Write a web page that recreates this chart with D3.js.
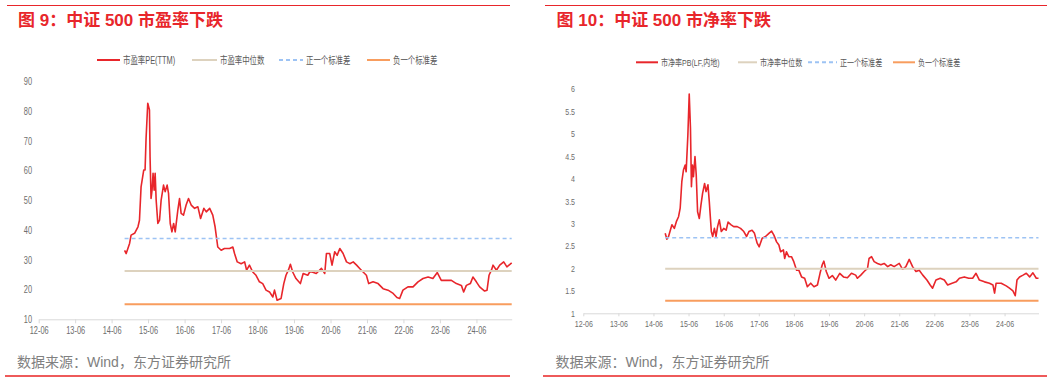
<!DOCTYPE html>
<html>
<head>
<meta charset="utf-8">
<script src="https://cdn.jsdelivr.net/npm/d3@7"></script>
<style>
  body { margin: 0; background: #fff; }
  svg { display: block; font-family: "Liberation Sans", Arial, "Noto Sans CJK SC", sans-serif; }
</style>
</head>
<body>
<script>
// 中证500 市盈率 PE(TTM)
const peDates = ['2014-10-09','2014-10-25','2014-11-28','2014-12-13','2015-01-17','2015-02-20','2015-03-07','2015-03-23','2015-04-19','2015-05-02',
  '2015-05-12','2015-05-29','2015-06-15','2015-06-21','2015-07-01','2015-07-11','2015-07-21','2015-08-01','2015-08-11','2015-08-21',
  '2015-09-07','2015-09-24','2015-10-10','2015-11-03','2015-11-19','2015-12-09','2015-12-23','2016-01-09','2016-01-26','2016-02-12',
  '2016-02-28','2016-03-25','2016-04-11','2016-04-27','2016-05-21','2016-06-16','2016-07-10','2016-08-06','2016-09-09','2016-10-12',
  '2016-11-08','2016-12-11','2017-01-04','2017-02-07','2017-03-10','2017-04-02','2017-04-29','2017-06-02','2017-07-05','2017-08-25',
  '2017-09-27','2017-10-14','2017-11-10','2017-12-19','2018-01-23','2018-02-12','2018-03-12','2018-04-14','2018-05-17','2018-06-20',
  '2018-07-23','2018-08-25','2018-09-29','2018-11-01','2018-11-18','2018-12-14','2019-01-23','2019-02-19','2019-03-13','2019-04-06',
  '2019-04-26','2019-05-19','2019-06-21','2019-08-04','2019-09-01','2019-10-17','2019-11-06','2019-11-29','2020-01-10','2020-03-02',
  '2020-04-04','2020-04-21','2020-05-24','2020-06-16','2020-07-13','2020-08-06','2020-09-02','2020-10-05','2020-11-08','2020-12-11',
  '2021-01-14','2021-02-17','2021-03-20','2021-04-23','2021-05-26','2021-06-18','2021-08-01','2021-09-20','2021-11-09','2021-12-29',
  '2022-02-18','2022-03-28','2022-04-24','2022-05-27','2022-07-16','2022-09-05','2022-10-25','2022-12-14','2023-02-03','2023-03-23',
  '2023-05-06','2023-06-15','2023-08-05','2023-09-24','2023-11-13','2024-01-02','2024-01-25','2024-02-21','2024-04-01','2024-04-27',
  '2024-05-31','2024-07-03','2024-08-22','2024-09-15','2024-10-05','2024-10-29','2024-11-14','2024-12-18','2025-01-20','2025-03-01',
  '2025-04-02','2025-05-20'];
const peValues = [33.2,32.1,35.5,38.3,38.9,41.1,43.3,54.5,60.2,60.2,
  70.8,82.6,80.4,64.6,50.6,53.4,59.1,53.4,59.1,50.1,
  42.2,43.3,50.1,55.1,52.9,55.1,52.3,42.2,39.4,42.2,
  39.4,46.7,50.6,45.6,45.0,48.4,50.6,48.4,47.3,47.8,
  43.9,47.3,46.1,47.3,45.0,41.1,34.3,33.2,33.8,33.8,
  34.3,32.1,29.3,28.7,29.3,26.5,28.2,25.9,24.8,22.6,
  22.0,19.8,19.2,17.5,19.8,16.4,17.0,22.0,24.8,26.5,
  28.5,25.9,23.7,22.0,25.4,24.8,25.9,25.9,25.4,27.1,
  25.4,32.1,32.1,28.2,32.7,31.5,33.8,32.1,29.3,28.7,
  29.3,28.2,27.1,25.9,24.8,22.0,22.6,22.0,20.3,19.8,
  18.7,17.3,17.0,19.8,20.9,20.9,22.6,23.7,24.2,23.7,
  25.7,23.1,23.1,23.1,22.0,21.4,19.2,21.4,22.0,24.2,
  22.6,20.9,19.5,19.8,24.8,26.5,28.2,26.5,28.2,29.3,
  27.6,29.0];
// median, +1 std, -1 std
const peRefs = [26.2, 37.2, 15.1];
const peTicks = [10, 20, 30, 40, 50, 60, 70, 80, 90];
const peLegend = ['市盈率PE(TTM)', '市盈率中位数', '正一个标准差', '负一个标准差'];

// 中证500 市净率 PB(LF, 内地)
const pbDates = ['2014-10-01','2014-10-19','2014-11-05','2014-12-10','2015-01-04','2015-01-25','2015-02-17','2015-03-06','2015-03-23','2015-04-09',
  '2015-04-27','2015-05-07','2015-05-25','2015-06-08','2015-06-21','2015-07-01','2015-07-12','2015-07-22','2015-08-07','2015-08-20',
  '2015-09-03','2015-09-21','2015-10-08','2015-10-25','2015-11-15','2015-11-30','2015-12-20','2016-01-03','2016-01-24','2016-02-07',
  '2016-02-25','2016-03-13','2016-03-29','2016-04-16','2016-05-07','2016-06-01','2016-06-26','2016-07-16','2016-08-17','2016-09-13',
  '2016-10-19','2016-11-23','2016-12-27','2017-01-25','2017-02-18','2017-03-23','2017-04-17','2017-05-15','2017-06-05','2017-07-06',
  '2017-08-10','2017-09-14','2017-10-12','2017-11-05','2017-12-03','2017-12-27','2018-01-14','2018-02-12','2018-02-25','2018-03-16',
  '2018-04-09','2018-05-07','2018-05-31','2018-06-29','2018-07-22','2018-08-20','2018-09-21','2018-10-19','2018-11-23','2018-12-27',
  '2019-02-01','2019-02-28','2019-03-23','2019-04-09','2019-05-04','2019-06-01','2019-07-06','2019-08-10','2019-09-21','2019-10-30',
  '2019-12-10','2020-01-21','2020-03-05','2020-03-23','2020-04-27','2020-06-01','2020-07-06','2020-07-22','2020-08-17','2020-09-13',
  '2020-10-18','2020-11-22','2020-12-26','2021-02-01','2021-03-05','2021-04-09','2021-06-01','2021-07-06','2021-08-09','2021-09-13',
  '2021-10-18','2021-11-22','2021-12-26','2022-02-01','2022-03-16','2022-04-19','2022-05-14','2022-06-18','2022-08-02','2022-09-13',
  '2022-10-18','2022-12-03','2023-01-14','2023-02-17','2023-04-09','2023-05-25','2023-07-05','2023-08-09','2023-09-13','2023-11-05',
  '2023-12-27','2024-02-01','2024-02-18','2024-03-05','2024-04-27','2024-06-18','2024-07-22','2024-08-27','2024-09-20','2024-10-08',
  '2024-11-04','2024-12-10','2025-01-13','2025-02-17','2025-03-23','2025-04-27','2025-05-20'];
const pbValues = [2.78,2.65,2.71,2.97,2.89,3.04,3.15,3.34,3.93,4.19,
  4.30,4.15,4.97,5.88,5.12,3.82,4.30,4.04,4.49,4.08,
  3.26,3.11,3.41,3.67,3.89,3.71,3.86,3.48,2.82,2.71,
  2.89,2.71,2.93,3.08,2.82,2.89,2.85,3.03,2.97,2.93,
  2.93,2.89,2.82,2.71,2.82,2.85,2.78,2.56,2.48,2.67,
  2.71,2.78,2.83,2.74,2.59,2.52,2.37,2.41,2.22,2.37,
  2.26,2.26,2.15,1.96,1.96,1.81,1.78,1.59,1.67,1.59,
  1.63,1.89,2.08,2.16,1.93,1.78,1.84,1.74,1.89,1.81,
  1.79,1.89,1.85,1.78,1.85,1.93,2.00,2.22,2.26,2.15,
  2.11,2.08,2.11,2.04,2.08,2.04,2.11,1.98,2.04,2.20,
  2.04,1.93,1.96,1.85,1.74,1.63,1.56,1.74,1.78,1.74,
  1.63,1.67,1.70,1.78,1.81,1.78,1.78,1.89,1.74,1.70,
  1.67,1.63,1.45,1.67,1.67,1.61,1.56,1.50,1.39,1.74,
  1.81,1.85,1.89,1.81,1.90,1.78,1.78];
const pbRefs = [1.99, 2.68, 1.28];
const pbTicks = [1, 1.5, 2, 2.5, 3, 3.5, 4, 4.5, 5, 5.5, 6];
const pbLegend = ['市净率PB(LF,内地)', '市净率中位数', '正一个标准差', '负一个标准差'];

const xTickDates = ['2012-06-01','2013-06-01','2014-06-01','2015-06-01','2016-06-01','2017-06-01','2018-06-01',
  '2019-06-01','2020-06-01','2021-06-01','2022-06-01','2023-06-01','2024-06-01'];
const xStart = '2012-06-01', xEnd = '2025-05-20';
const source = '数据来源：Wind，东方证券研究所';

const W = 1061, H = 382;
const red = '#e8262b';
const parse = d3.timeParse('%Y-%m-%d');
const fmt = d3.timeFormat('%y-%m');

const svg = d3.select('body').append('svg')
    .attr('width', W)
    .attr('height', H);

// chart text in the original is narrower than normal; squeeze it horizontally
function squeeze(sel, k) {
    sel.each(function() {
        const w = this.getComputedTextLength();
        this.setAttribute('textLength', w * k);
        this.setAttribute('lengthAdjust', 'spacingAndGlyphs');
    });
}

function drawPanel(p) {
    const g = svg.append('g');

    // top / bottom rules
    g.append('line').attr('x1', p.rule[0]).attr('x2', p.rule[1]).attr('y1', 5.5).attr('y2', 5.5)
        .attr('stroke', red).attr('stroke-width', 1.2);
    g.append('line').attr('x1', p.rule[0] - 2).attr('x2', p.rule[1]).attr('y1', 376).attr('y2', 376)
        .attr('stroke', '#ee5a5a').attr('stroke-width', 2);

    g.append('text')
        .attr('x', p.titleX).attr('y', 26)
        .attr('fill', red)
        .attr('font-size', 17)
        .attr('font-weight', 'bold')
        .text(p.title);

    g.append('text')
        .attr('x', p.titleX - 1).attr('y', 366.5)
        .attr('fill', '#808080')
        .attr('font-size', 14)
        .text(source);

    const data = p.dates.map((d, i) => ({ date: parse(d), value: p.values[i] }));

    const x = d3.scaleTime()
        .domain([parse(xStart), parse(xEnd)])
        .range(p.xRange);
    const y = d3.scaleLinear()
        .domain(p.yDomain)
        .range(p.yRange);

    // y labels
    const yAxis = g.append('g')
        .attr('transform', `translate(${p.yLabelRight + 3},0)`)
        .call(d3.axisLeft(y).tickValues(p.yTicks).tickSize(0).tickPadding(3).tickFormat(d => d));
    yAxis.select('.domain').remove();
    yAxis.selectAll('text')
        .attr('fill', '#6e6e6e')
        .attr('font-size', p.fontSize)
        .attr('font-family', '"Liberation Sans", Arial, sans-serif')
        .call(squeeze, p.k);

    // x axis
    const xAxis = g.append('g')
        .attr('transform', `translate(0,${p.yRange[0]})`)
        .call(d3.axisBottom(x)
            .tickValues(xTickDates.map(parse))
            .tickSize(p.tickLen)
            .tickSizeOuter(0)
            .tickPadding(p.tickPad)
            .tickFormat(fmt));
    xAxis.select('.domain').attr('stroke', '#d9d9d9');
    xAxis.selectAll('.tick line').attr('stroke', '#d9d9d9');
    xAxis.selectAll('text')
        .attr('fill', '#6e6e6e')
        .attr('font-size', p.fontSize)
        .attr('font-family', '"Liberation Sans", Arial, sans-serif')
        .call(squeeze, p.k);

    // series
    const line = d3.line()
        .x(d => x(d.date))
        .y(d => y(d.value));
    g.append('path')
        .datum(data)
        .attr('fill', 'none')
        .attr('stroke', red)
        .attr('stroke-width', 1.6)
        .attr('stroke-linejoin', 'round')
        .attr('d', line);

    // reference lines: median, +1 std, -1 std
    const refStyles = [
        { color: '#ddd2be', width: 2, dash: null },
        { color: '#9dc3f4', width: 1.5, dash: '4,3' },
        { color: '#f89d5e', width: 2, dash: null }
    ];
    const x0 = x(data[0].date), x1 = x(data[data.length - 1].date);
    p.refs.forEach((v, i) => {
        g.append('line')
            .attr('x1', x0).attr('x2', x1)
            .attr('y1', y(v)).attr('y2', y(v))
            .attr('stroke', refStyles[i].color)
            .attr('stroke-width', refStyles[i].width)
            .attr('stroke-dasharray', refStyles[i].dash);
    });

    // legend
    const swatches = [{ color: red, width: 2, dash: null }].concat(refStyles);
    p.legend.forEach((name, i) => {
        const lx = p.legendX[i];
        const sw = p.swatchW[i];
        g.append('line')
            .attr('x1', lx).attr('x2', lx + sw)
            .attr('y1', p.legendY).attr('y2', p.legendY)
            .attr('stroke', swatches[i].color)
            .attr('stroke-width', 2)
            .attr('stroke-dasharray', swatches[i].dash);
        g.append('text')
            .attr('x', lx + sw + 3)
            .attr('y', p.legendY)
            .attr('dy', '0.35em')
            .attr('fill', '#595959')
            .attr('font-size', p.fontSize)
            .text(name)
            .call(squeeze, p.k);
    });
}

drawPanel({
    title: '图 9：中证 500 市盈率下跌',
    titleX: 18,
    rule: [7, 510],
    dates: peDates, values: peValues, refs: peRefs,
    yTicks: peTicks, yDomain: [10, 90],
    xRange: [38.7, 511.7], yRange: [319.3, 81.3],
    yLabelRight: 32,
    tickLen: 4, tickPad: 3.5,
    legend: peLegend,
    legendX: [97, 192, 279, 367], swatchW: [23, 25, 24, 23], legendY: 60,
    fontSize: 10, k: 0.74
});

drawPanel({
    title: '图 10：中证 500 市净率下跌',
    titleX: 556.5,
    rule: [545, 1047],
    dates: pbDates, values: pbValues, refs: pbRefs,
    yTicks: pbTicks, yDomain: [1, 6],
    xRange: [583.3, 1038.5], yRange: [313.3, 88.7],
    yLabelRight: 575,
    tickLen: 3, tickPad: 3.5,
    legend: pbLegend,
    legendX: [636, 738, 808, 893], swatchW: [22, 19, 29, 22], legendY: 62.3,
    fontSize: 9.5, k: 0.74
});
</script>
</body>
</html>
